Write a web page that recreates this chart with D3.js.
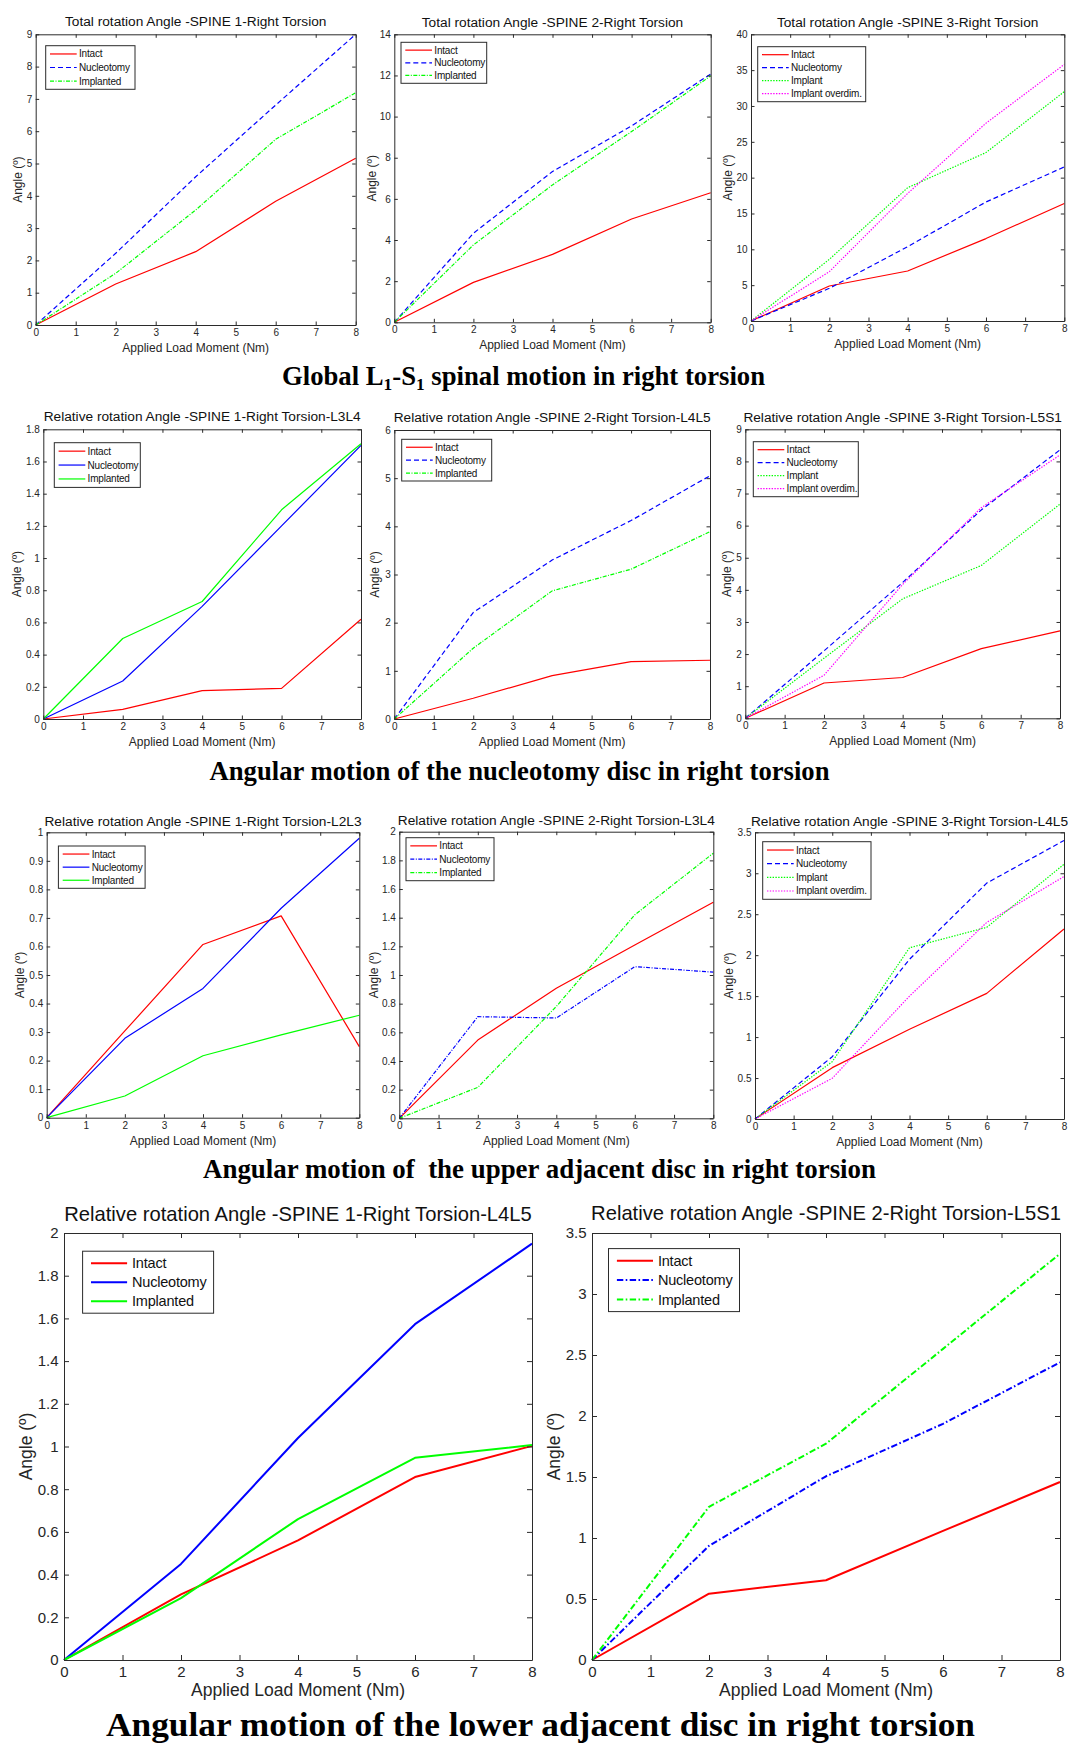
<!DOCTYPE html>
<html>
<head>
<meta charset="utf-8">
<script src="https://cdn.jsdelivr.net/npm/d3@7"></script>
<style>
  body { margin: 0; background: #fff; }
  svg { display: block; }
</style>
</head>
<body>
<script>
const WIDTH = 1070;
const HEIGHT = 1747;
const FONT = "'Liberation Sans', Arial, sans-serif";
const SERIF = "'Liberation Serif', 'Times New Roman', serif";
const AXIS_COLOR = "#2b2b2b";
const TEXT_COLOR = "#262626";
const COLORS = ["#ff0000", "#0000ff", "#00ff00", "#ff00ff"];

// applied load moment (Nm) at which angles were measured
const loads = [0, 2, 4, 6, 8];
const xTicks = [0, 1, 2, 3, 4, 5, 6, 7, 8];
const names3 = ["Intact", "Nucleotomy", "Implanted"];
const names4 = ["Intact", "Nucleotomy", "Implant", "Implant overdim."];

// global L1-S1, total rotation (deg)
const totalS1Intact = [0, 1.27, 2.27, 3.83, 5.16];
const totalS1Nucleotomy = [0, 2.22, 4.59, 6.81, 9.0];
const totalS1Implanted = [0, 1.6, 3.56, 5.75, 7.19];
const totalS1Ticks = [0, 1, 2, 3, 4, 5, 6, 7, 8, 9];

const totalS2Intact = [0, 1.94, 3.3, 5.02, 6.3];
const totalS2Nucleotomy = [0, 4.33, 7.33, 9.55, 12.07];
const totalS2Implanted = [0, 3.76, 6.68, 9.27, 11.98];
const totalS2Ticks = [0, 2, 4, 6, 8, 10, 12, 14];

const totalS3Intact = [0, 4.88, 6.98, 11.5, 16.4];
const totalS3Nucleotomy = [0, 4.56, 10.37, 16.6, 21.5];
const totalS3Implant = [0, 8.6, 18.6, 23.5, 32.0];
const totalS3Overdim = [0, 6.88, 17.8, 27.6, 35.8];
const totalS3Ticks = [0, 5, 10, 15, 20, 25, 30, 35, 40];

// nucleotomy disc, relative rotation (deg)
const nucS1Intact = [0, 0.06, 0.176, 0.19, 0.62];
const nucS1Nucleotomy = [0, 0.236, 0.7, 1.2, 1.7];
const nucS1Implanted = [0, 0.5, 0.73, 1.3, 1.71];
const nucS1Ticks = [0, 0.2, 0.4, 0.6, 0.8, 1, 1.2, 1.4, 1.6, 1.8];

const nucS2Intact = [0, 0.43, 0.9, 1.19, 1.22];
const nucS2Nucleotomy = [0, 2.21, 3.3, 4.12, 5.05];
const nucS2Implanted = [0, 1.47, 2.66, 3.11, 3.89];
const nucS2Ticks = [0, 1, 2, 3, 4, 5, 6];

const nucS3Intact = [0, 1.1, 1.27, 2.17, 2.72];
const nucS3Nucleotomy = [0, 2.1, 4.23, 6.49, 8.36];
const nucS3Implant = [0, 1.87, 3.72, 4.76, 6.67];
const nucS3Overdim = [0, 1.34, 4.17, 6.56, 8.2];
const nucS3Ticks = [0, 1, 2, 3, 4, 5, 6, 7, 8, 9];

// upper adjacent disc
const upS1Intact = [0, 0.304, 0.607, 0.707, 0.249];
const upS1Nucleotomy = [0, 0.278, 0.453, 0.734, 0.979];
const upS1Implanted = [0, 0.076, 0.217, 0.29, 0.359];
const upS1Ticks = [0, 0.1, 0.2, 0.3, 0.4, 0.5, 0.6, 0.7, 0.8, 0.9, 1];

const upS2Intact = [0, 0.546, 0.907, 1.21, 1.507];
const upS2Nucleotomy = [0, 0.709, 0.7, 1.058, 1.02];
const upS2Implanted = [0, 0.216, 0.78, 1.42, 1.85];
const upS2Ticks = [0, 0.2, 0.4, 0.6, 0.8, 1, 1.2, 1.4, 1.6, 1.8, 2];

const upS3Intact = [0, 0.627, 1.095, 1.534, 2.32];
const upS3Nucleotomy = [0, 0.76, 1.95, 2.88, 3.4];
const upS3Implant = [0, 0.7, 2.09, 2.34, 3.11];
const upS3Overdim = [0, 0.497, 1.5, 2.4, 2.96];
const upS3Ticks = [0, 0.5, 1, 1.5, 2, 2.5, 3, 3.5];

// lower adjacent disc
const lowS1Intact = [0, 0.307, 0.56, 0.857, 1.003];
const lowS1Nucleotomy = [0, 0.45, 1.04, 1.573, 1.95];
const lowS1Implanted = [0, 0.29, 0.66, 0.947, 1.007];
const lowS1Ticks = [0, 0.2, 0.4, 0.6, 0.8, 1, 1.2, 1.4, 1.6, 1.8, 2];

const lowS2Intact = [0, 0.544, 0.654, 1.058, 1.459];
const lowS2Nucleotomy = [0, 0.936, 1.506, 1.936, 2.44];
const lowS2Implanted = [0, 1.256, 1.773, 2.55, 3.33];
const lowS2Ticks = [0, 0.5, 1, 1.5, 2, 2.5, 3, 3.5];

const SMALL = {
  title: 13.7, tick: 10, label: 12, legend: 10, tickLen: 3.5, lineWidth: 1.2,
  xPad: 4, yPad: 3.5, xLabelDy: 27, sampleX: [4.3, 31], textX: 33.3, legendPad: 1.5, dashScale: 1
};
const LARGE = {
  title: 20.2, tick: 15, label: 17.5, legend: 14.5, tickLen: 5, lineWidth: 2,
  xPad: 6, yPad: 5.5, xLabelDy: 36, sampleX: [8.4, 44.5], textX: 49.4, legendPad: 2.5, dashScale: 1.6
};

const DASHES = { solid: null, dash: [5, 3], dashdot: [4, 1.5, 1, 1.5], dot: [1.4, 1.4] };

const panels = [
  { title: "Total rotation Angle -SPINE 1-Right Torsion", x0: 35.7, x1: 355.7, y0: 34.3, y1: 325, titleY: 26,
    yMax: 9, yTicks: totalS1Ticks, series: [totalS1Intact, totalS1Nucleotomy, totalS1Implanted], names: names3,
    dashes: ["solid", "dash", "dashdot"], legend: [10, 11.4, 89.3, 43.6], yLabelDx: 18.4, style: SMALL },
  { title: "Total rotation Angle -SPINE 2-Right Torsion", x0: 394.3, x1: 710.7, y0: 34.3, y1: 322.3, titleY: 26.7,
    yMax: 14, yTicks: totalS2Ticks, series: [totalS2Intact, totalS2Nucleotomy, totalS2Implanted], names: names3,
    dashes: ["solid", "dash", "dashdot"], legend: [6.7, 8, 85.7, 41], yLabelDx: 22.6, style: SMALL },
  { title: "Total rotation Angle -SPINE 3-Right Torsion", x0: 751, x1: 1064.3, y0: 34.3, y1: 321, titleY: 26.7,
    yMax: 40, yTicks: totalS3Ticks, series: [totalS3Intact, totalS3Nucleotomy, totalS3Implant, totalS3Overdim], names: names4,
    dashes: ["solid", "dash", "dot", "dot"], legend: [6.7, 12.4, 108, 55], yLabelDx: 23.7, style: SMALL },

  { title: "Relative rotation Angle -SPINE 1-Right Torsion-L3L4", x0: 43.3, x1: 361, y0: 429.3, y1: 719, titleY: 421,
    yMax: 1.8, yTicks: nucS1Ticks, series: [nucS1Intact, nucS1Nucleotomy, nucS1Implanted], names: names3,
    dashes: ["solid", "solid", "solid"], legend: [11, 13.4, 86, 44.7], yLabelDx: 26.6, style: SMALL },
  { title: "Relative rotation Angle -SPINE 2-Right Torsion-L4L5", x0: 394.3, x1: 710, y0: 430, y1: 719, titleY: 421.7,
    yMax: 6, yTicks: nucS2Ticks, series: [nucS2Intact, nucS2Nucleotomy, nucS2Implanted], names: names3,
    dashes: ["solid", "dash", "dashdot"], legend: [7.4, 9.3, 90, 41.7], yLabelDx: 19.3, style: SMALL },
  { title: "Relative rotation Angle -SPINE 3-Right Torsion-L5S1", x0: 745.3, x1: 1060, y0: 429.3, y1: 718.3, titleY: 421.7,
    yMax: 9, yTicks: nucS3Ticks, series: [nucS3Intact, nucS3Nucleotomy, nucS3Implant, nucS3Overdim], names: names4,
    dashes: ["solid", "dash", "dot", "dot"], legend: [8, 12.4, 105, 55], yLabelDx: 18.6, style: SMALL },

  { title: "Relative rotation Angle -SPINE 1-Right Torsion-L2L3", x0: 46.7, x1: 359.3, y0: 832.3, y1: 1117.7, titleY: 825.5,
    yMax: 1, yTicks: upS1Ticks, series: [upS1Intact, upS1Nucleotomy, upS1Implanted], names: names3,
    dashes: ["solid", "solid", "solid"], legend: [11.7, 13.7, 86.7, 42.3], yLabelDx: 27.4, style: SMALL },
  { title: "Relative rotation Angle -SPINE 2-Right Torsion-L3L4", x0: 399.3, x1: 713.3, y0: 831.7, y1: 1118.3, titleY: 824.5,
    yMax: 2, yTicks: upS2Ticks, series: [upS2Intact, upS2Nucleotomy, upS2Implanted], names: names3,
    dashes: ["solid", "dashdot", "dashdot"], legend: [6.7, 6, 88, 43], yLabelDx: 26, style: SMALL },
  { title: "Relative rotation Angle -SPINE 3-Right Torsion-L4L5", x0: 755, x1: 1064, y0: 832.3, y1: 1119, titleY: 825.5,
    yMax: 3.5, yTicks: upS3Ticks, series: [upS3Intact, upS3Nucleotomy, upS3Implant, upS3Overdim], names: names4,
    dashes: ["solid", "dash", "dot", "dot"], legend: [7.7, 9.4, 108.3, 57.6], yLabelDx: 26, style: SMALL },

  { title: "Relative rotation Angle -SPINE 1-Right Torsion-L4L5", x0: 64, x1: 532, y0: 1233, y1: 1660, titleY: 1221,
    yMax: 2, yTicks: lowS1Ticks, series: [lowS1Intact, lowS1Nucleotomy, lowS1Implanted], names: names3,
    dashes: ["solid", "solid", "solid"], legend: [18.6, 18.2, 131, 62], yLabelDx: 38, style: LARGE },
  { title: "Relative rotation Angle -SPINE 2-Right Torsion-L5S1", x0: 592, x1: 1060, y0: 1233, y1: 1660, titleY: 1220,
    yMax: 3.5, yTicks: lowS2Ticks, series: [lowS2Intact, lowS2Nucleotomy, lowS2Implanted], names: names3,
    dashes: ["solid", "dashdot", "dashdot"], legend: [16.5, 15.6, 131, 63], yLabelDx: 38, style: LARGE }
];

const captions = [
  { parts: [["Global L", 0], ["1", 1], ["-S", 0], ["1", 1], [" spinal motion in right torsion", 0]], x: 523.5, y: 385, size: 26.7, width: 483 },
  { parts: [["Angular motion of the nucleotomy disc in right torsion", 0]], x: 519.5, y: 780, size: 26.7, width: 620 },
  { parts: [["Angular motion of  the upper adjacent disc in right torsion", 0]], x: 539.5, y: 1178, size: 26.7, width: 673 },
  { parts: [["Angular motion of the lower adjacent disc in right torsion", 0]], x: 540.5, y: 1736, size: 34, width: 869 }
];

const SUB_SCALE = 0.65;
const SUB_DROP = 0.3;

const fmt = d3.format("~g");

const svg = d3
  .select("body")
  .append("svg")
  .attr("width", WIDTH)
  .attr("height", HEIGHT)
  .attr("viewBox", "0 0 " + WIDTH + " " + HEIGHT);

svg.append("rect").attr("width", WIDTH).attr("height", HEIGHT).attr("fill", "#fff");

panels.forEach(p => drawPanel(p));
captions.forEach(c => drawCaption(c));

function dashFor(name, k) {
  const d = DASHES[name];
  return d ? d.map(v => v * k).join(",") : null;
}

function styleAxis(sel, s) {
  sel.attr("font-family", FONT).attr("font-size", s.tick);
  sel.selectAll("path, line").attr("stroke", AXIS_COLOR).attr("stroke-width", 1);
  sel.selectAll("text").attr("fill", TEXT_COLOR);
}

function drawPanel(p) {
  const s = p.style;
  const x = d3.scaleLinear().domain([0, 8]).range([p.x0, p.x1]);
  const y = d3.scaleLinear().domain([0, p.yMax]).range([p.y1, p.y0]);
  const g = svg.append("g").attr("class", "panel");

  const line = d3
    .line()
    .x((_, i) => x(loads[i]))
    .y(d => y(d));

  g.selectAll("path.series")
    .data(p.series)
    .enter()
    .append("path")
    .attr("class", "series")
    .attr("d", line)
    .attr("fill", "none")
    .attr("stroke", (_, i) => COLORS[i])
    .attr("stroke-width", s.lineWidth)
    .attr("stroke-linejoin", "round")
    .attr("stroke-dasharray", (_, i) => dashFor(p.dashes[i], s.dashScale));

  // box with inward ticks on all four sides
  g.append("g")
    .attr("transform", "translate(0," + p.y1 + ")")
    .call(d3.axisBottom(x).tickValues(xTicks).tickSize(-s.tickLen).tickSizeOuter(0).tickPadding(s.xPad).tickFormat(fmt))
    .call(a => styleAxis(a, s));
  g.append("g")
    .attr("transform", "translate(0," + p.y0 + ")")
    .call(d3.axisTop(x).tickValues(xTicks).tickSize(-s.tickLen).tickSizeOuter(0).tickFormat(""))
    .call(a => styleAxis(a, s));
  g.append("g")
    .attr("transform", "translate(" + p.x0 + ",0)")
    .call(d3.axisLeft(y).tickValues(p.yTicks).tickSize(-s.tickLen).tickSizeOuter(0).tickPadding(s.yPad).tickFormat(fmt))
    .call(a => styleAxis(a, s));
  g.append("g")
    .attr("transform", "translate(" + p.x1 + ",0)")
    .call(d3.axisRight(y).tickValues(p.yTicks).tickSize(-s.tickLen).tickSizeOuter(0).tickFormat(""))
    .call(a => styleAxis(a, s));

  const cx = (p.x0 + p.x1) / 2;
  const cy = (p.y0 + p.y1) / 2;

  g.append("text")
    .attr("x", cx)
    .attr("y", p.titleY)
    .attr("text-anchor", "middle")
    .attr("font-family", FONT)
    .attr("font-size", s.title)
    .attr("fill", "#111")
    .text(p.title);

  g.append("text")
    .attr("x", cx)
    .attr("y", p.y1 + s.xLabelDy)
    .attr("text-anchor", "middle")
    .attr("font-family", FONT)
    .attr("font-size", s.label)
    .attr("fill", TEXT_COLOR)
    .text("Applied Load Moment (Nm)");

  g.append("text")
    .attr("transform", "translate(" + (p.x0 - p.yLabelDx) + "," + cy + ") rotate(-90)")
    .attr("dy", "0.35em")
    .attr("text-anchor", "middle")
    .attr("font-family", FONT)
    .attr("font-size", s.label)
    .attr("fill", TEXT_COLOR)
    .text("Angle (\u00ba)");

  // legend
  const L = p.legend;
  const n = p.names.length;
  const rowH = (L[3] - 2 * s.legendPad) / n;
  const lg = g.append("g").attr("transform", "translate(" + (p.x0 + L[0]) + "," + (p.y0 + L[1]) + ")");
  lg.append("rect")
    .attr("width", L[2])
    .attr("height", L[3])
    .attr("fill", "#fff")
    .attr("stroke", AXIS_COLOR)
    .attr("stroke-width", 1);
  const item = lg
    .selectAll("g.item")
    .data(p.names)
    .enter()
    .append("g")
    .attr("class", "item")
    .attr("transform", (_, i) => "translate(0," + (s.legendPad + rowH * (i + 0.5)) + ")");
  item.append("line")
    .attr("x1", s.sampleX[0])
    .attr("x2", s.sampleX[1])
    .attr("stroke", (_, i) => COLORS[i])
    .attr("stroke-width", s.lineWidth)
    .attr("stroke-dasharray", (_, i) => dashFor(p.dashes[i], s.dashScale));
  item.append("text")
    .attr("x", s.textX)
    .attr("dy", "0.35em")
    .attr("font-family", FONT)
    .attr("font-size", s.legend)
    .attr("letter-spacing", -0.2)
    .attr("fill", "#111")
    .text(d => d);
}

function drawCaption(c) {
  const t = svg
    .append("text")
    .attr("x", c.x)
    .attr("y", c.y)
    .attr("text-anchor", "middle")
    .attr("font-family", SERIF)
    .attr("font-weight", "bold")
    .attr("font-size", c.size)
    .attr("fill", "#000")
    .attr("textLength", c.width)
    .attr("lengthAdjust", "spacingAndGlyphs")
    .style("white-space", "pre");
  const drop = c.size * SUB_DROP * SUB_SCALE;
  let down = false;
  c.parts.forEach(([str, sub]) => {
    const ts = t.append("tspan").text(str);
    if (sub) {
      ts.attr("font-size", c.size * SUB_SCALE);
      if (!down) ts.attr("dy", drop);
      down = true;
    } else if (down) {
      ts.attr("dy", -drop);
      down = false;
    }
  });
}
</script>
</body>
</html>
